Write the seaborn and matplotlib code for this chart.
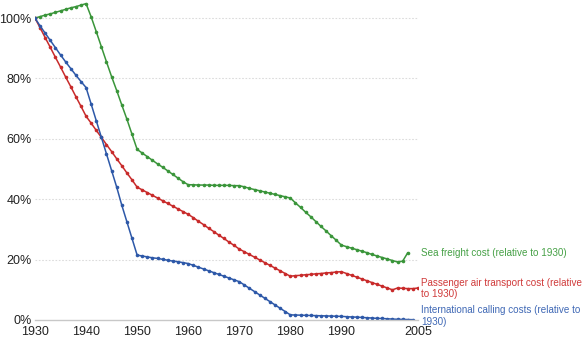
import matplotlib
matplotlib.use("Agg")
import matplotlib.pyplot as plt
import matplotlib.transforms as mtransforms
import seaborn as sns
import pandas as pd

# ---- data ----
sea_years = list(range(1930, 2004))
sea_values = [
    100.0, 100.5, 101.0, 101.4, 101.9, 102.4, 102.9, 103.4, 103.8, 104.3,
    104.8, 100.4, 95.5, 90.5, 85.5, 80.6, 76.0, 71.2, 66.5, 61.5,
    56.5, 55.3, 54.1, 52.9, 51.7, 50.6, 49.4, 48.2, 47.0, 45.8,
    44.8, 44.8, 44.7, 44.7, 44.7, 44.6, 44.6, 44.6, 44.6, 44.5,
    44.5, 44.1, 43.6, 43.2, 42.8, 42.4, 42.0, 41.6, 41.2, 40.8,
    40.4, 38.8, 37.3, 35.7, 34.2, 32.6, 31.0, 29.5, 27.9, 26.4,
    24.8, 24.3, 23.8, 23.3, 22.8, 22.3, 21.7, 21.2, 20.7, 20.2,
    19.7, 19.2, 19.5, 22.3,
]

air_years = list(range(1930, 2006))
air_values = [
    100.0, 96.8, 93.5, 90.3, 87.0, 83.8, 80.5, 77.3, 74.0, 70.8,
    67.5, 65.2, 62.8, 60.5, 58.1, 55.8, 53.4, 51.1, 48.7, 46.4,
    44.0, 43.1, 42.2, 41.3, 40.4, 39.5, 38.6, 37.7, 36.8, 35.9,
    35.0, 33.9, 32.7, 31.6, 30.4, 29.3, 28.1, 27.0, 25.8, 24.7,
    23.5, 22.6, 21.7, 20.8, 19.9, 19.0, 18.1, 17.2, 16.3, 15.4,
    14.5, 14.7, 14.8, 15.0, 15.1, 15.3, 15.4, 15.6, 15.7, 15.9,
    16.0, 15.4, 14.8, 14.2, 13.6, 13.0, 12.4, 11.8, 11.2, 10.6,
    10.0, 10.6, 10.5, 10.4, 10.4, 10.6,
]

call_years = list(range(1930, 2005))
call_values = [
    100.0, 97.4, 95.0, 92.6, 90.2, 87.8, 85.5, 83.3, 81.1, 79.0,
    77.0, 71.5, 66.0, 60.5, 55.0, 49.5, 44.0, 38.0, 32.5, 27.0,
    21.5, 21.2, 20.9, 20.6, 20.4, 20.1, 19.8, 19.5, 19.3, 19.0,
    18.7, 18.1, 17.5, 16.9, 16.3, 15.7, 15.1, 14.5, 13.9, 13.3,
    12.7, 11.6, 10.5, 9.4, 8.3, 7.2, 6.1, 5.0, 3.9, 2.8,
    1.7, 1.65, 1.6, 1.55, 1.5, 1.45, 1.4, 1.35, 1.3, 1.25,
    1.2, 1.1, 1.0, 0.95, 0.85, 0.75, 0.65, 0.55, 0.5, 0.4,
    0.3, 0.25, 0.2, 0.15, 0.1,
]

labels = [
    "Sea freight cost (relative to 1930)",
    "Passenger air transport cost (relative\nto 1930)",
    "International calling costs (relative to\n1930)",
]
label_y = [22.1, 10.5, 1.3]

x_ticks = [1930, 1940, 1950, 1960, 1970, 1980, 1990, 2005]
y_ticks = [0, 20, 40, 60, 80, 100]
y_tick_labels = ["0%", "20%", "40%", "60%", "80%", "100%"]

colors = ["#3a953a", "#c82a2a", "#2d58a8"]
text_colors = ["#45a045", "#d03a3a", "#3f68b5"]

# ---- figure ----
sns.set_theme(style="white")
plt.rcParams["font.family"] = ["Liberation Sans", "DejaVu Sans"]

fig = plt.figure(figsize=(5.86, 3.39), dpi=100)
ax = fig.add_axes([35 / 586, 1 - 320 / 339, (418 - 35) / 586, (320 - 1.5) / 339])

series = [(sea_years, sea_values), (air_years, air_values), (call_years, call_values)]
for (yrs, vals), c in zip(series, colors):
    df = pd.DataFrame({"year": yrs, "value": vals})
    sns.lineplot(data=df, x="year", y="value", ax=ax, color=c, linewidth=1.1,
                 marker="o", markersize=2.6, markeredgewidth=0, markerfacecolor=c)

ax.set_xlim(1930, 2005)
ax.set_ylim(0, 105.5)
ax.set_xticks(x_ticks)
ax.set_xticklabels([str(t) for t in x_ticks])
ax.set_yticks(y_ticks)
ax.set_yticklabels(y_tick_labels)
ax.set_xlabel("")
ax.set_ylabel("")
ax.tick_params(axis="both", length=0, labelsize=9, colors="#222222")
ax.tick_params(axis="x", pad=4.5)
ax.tick_params(axis="y", pad=2.5)

for s in ["top", "right", "left"]:
    ax.spines[s].set_visible(False)
ax.spines["bottom"].set_color("#c8c8c8")
ax.spines["bottom"].set_linewidth(1.0)

for yv in y_ticks[1:]:
    ax.axhline(yv, color="#dcdcdc", linewidth=0.8, linestyle=(0, (1.5, 1.5)), zorder=0)

trans = mtransforms.blended_transform_factory(ax.transAxes, ax.transData)
for lab, yv, tc in zip(labels, label_y, text_colors):
    ax.text(1.008, yv, lab, transform=trans, color=tc, fontsize=7.1,
            va="center", ha="left", linespacing=1.15, clip_on=False)

fig.savefig("out.png", dpi=100)
